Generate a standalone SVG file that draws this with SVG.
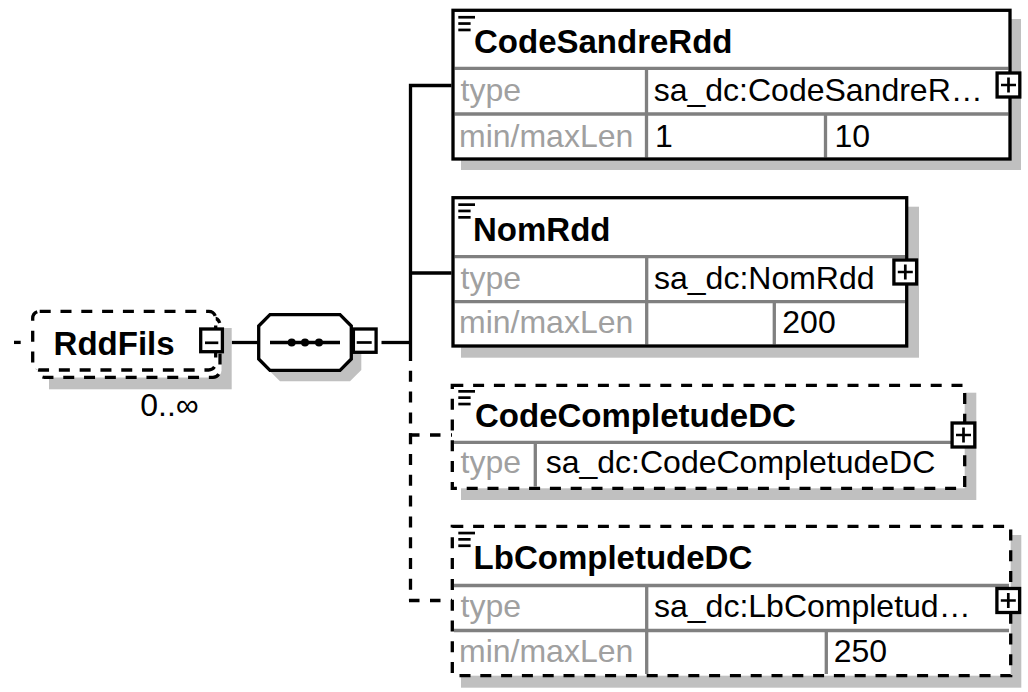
<svg xmlns="http://www.w3.org/2000/svg" width="1028" height="692" viewBox="0 0 1028 692">
<style>
text{font-family:"Liberation Sans",Arial,sans-serif;font-size:32px;fill:#000}
.t{font-weight:bold;font-size:33px}
.lbl{fill:#a0a0a0}
.bg{fill:#fff;stroke:none}
.bd{fill:none;stroke:#000;stroke-width:3.3}
.dash{stroke-dasharray:11 9.8}
.sh{fill:#c0c0c0}
.grid{stroke:#808080;stroke-width:3.3;fill:none}
.ln{stroke:#000;stroke-width:3.3;fill:none}
.btn{fill:#fff;stroke:#000;stroke-width:3.3}
.sign{stroke:#000;stroke-width:2.7;fill:none}
</style>
<defs>
<g id="plus"><rect class="btn" x="-11.4" y="-12" width="22.7" height="24"/><path class="sign" d="M-7.5 0H7.5M0 -7.5V7.5"/></g>
<g id="icon"><rect x="0" y="0" width="16.7" height="2.7"/><rect x="0" y="6.3" width="12.3" height="2.7"/><rect x="0" y="12.7" width="12.3" height="2.7"/></g>
</defs>

<g id="connectors">
<path class="ln" d="M14 342.4H20.7"/>
<path class="ln" d="M231.7 342.5H258.7"/>
<path class="ln" d="M381.5 342.5H410.5"/>
<path class="ln" d="M451.5 85.5H410.5V350"/>
<path class="ln" d="M410.5 273H451.5"/>
<path class="ln dash" d="M410.5 350V600.5"/>
<path class="ln" style="stroke-dasharray:10.5 10.5" d="M409 435H452"/>
<path class="ln" style="stroke-dasharray:10.5 10.5" d="M409 600.5H452"/>
</g>

<g id="RddFils">
<rect class="sh" x="49" y="328" width="182.7" height="61.3"/>
<rect class="bg" x="37.5" y="318" width="184" height="59.5" rx="7"/>
<rect class="bd dash" x="37.5" y="318" width="182.5" height="59.3" rx="7"/>
<rect class="bg" x="32.7" y="311.3" width="183" height="58.7" rx="7"/>
<rect class="bd dash" x="32.7" y="311.3" width="183" height="58.7" rx="7"/>
<text class="t" x="53.6" y="355">RddFils</text>
<rect class="btn" x="200.7" y="329" width="21.7" height="22.7"/>
<path class="sign" d="M205 342.8H218.3"/>
<text x="140.3" y="416">0..∞</text>
</g>

<g id="sequence">
<polygon class="sh" points="268.7,337 280,325.7 350,325.7 361.3,337 361.3,370 350,381.3 280,381.3 268.7,370"/>
<polygon class="btn" points="258.7,326 270,314.7 340,314.7 351.3,326 351.3,359 340,370.3 270,370.3 258.7,359"/>
<path class="ln" d="M270 342.5H340"/>
<circle cx="291.7" cy="342.5" r="4"/>
<circle cx="305" cy="342.5" r="4"/>
<circle cx="319" cy="342.5" r="4"/>
<rect class="btn" x="353.4" y="329" width="22.7" height="23.3"/>
<path class="sign" d="M356.7 342.5H371.7"/>
</g>

<g id="CodeSandreRdd">
<rect class="sh" x="461" y="19" width="560" height="151"/>
<rect class="bg" x="453" y="10.3" width="557" height="148.7"/>
<path class="grid" d="M454.6 68.3H1008.4M454.6 114H1008.4M646.5 68.3V157.4M825.5 114V157.4"/>
<rect class="bd" x="453" y="10.3" width="557" height="148.7"/>
<use href="#icon" x="458.3" y="15.9"/>
<text class="t" x="474" y="53.3">CodeSandreRdd</text>
<text class="lbl" x="460.5" y="100.5">type</text>
<text x="653.7" y="100.5">sa_dc:CodeSandreR…</text>
<text class="lbl" x="459" y="146.5">min/maxLen</text>
<text x="655" y="146.5">1</text>
<text x="834.5" y="146.5">10</text>
<use href="#plus" x="1008.5" y="85"/>
</g>

<g id="NomRdd">
<rect class="sh" x="461" y="206.7" width="458" height="151"/>
<rect class="bg" x="453" y="197.7" width="453.7" height="148.3"/>
<path class="grid" d="M454.6 256.7H905M454.6 301.7H905M646.7 256.7V344.4M774.3 301.7V344.4"/>
<rect class="bd" x="453" y="197.7" width="453.7" height="148.3"/>
<use href="#icon" x="458.3" y="203.3"/>
<text class="t" x="473" y="240.7">NomRdd</text>
<text class="lbl" x="460.5" y="288.8">type</text>
<text x="654" y="288.8">sa_dc:NomRdd</text>
<text class="lbl" x="459" y="333.3">min/maxLen</text>
<text x="782.3" y="333.3">200</text>
<use href="#plus" x="905.3" y="272"/>
</g>

<g id="CodeCompletudeDC">
<rect class="sh" x="461" y="392.7" width="515.3" height="107.3"/>
<rect class="bg" x="452.3" y="385.3" width="512.4" height="103"/>
<path class="grid" d="M454 442.3H963M535.3 442.3V486.6"/>
<rect class="bd dash" x="452.3" y="385.3" width="512.4" height="103"/>
<use href="#icon" x="458.3" y="390"/>
<text class="t" x="475" y="426.7">CodeCompletudeDC</text>
<text class="lbl" x="460.5" y="473.3">type</text>
<text x="545.7" y="473.3">sa_dc:CodeCompletudeDC</text>
<use href="#plus" x="963.5" y="435"/>
</g>

<g id="LbCompletudeDC">
<rect class="sh" x="461" y="535" width="560.3" height="152.7"/>
<rect class="bg" x="452.3" y="526.3" width="558.4" height="149.4"/>
<path class="grid" d="M454 585.5H1009M454 630.5H1009M646.7 585.5V674M826.3 630.5V674"/>
<rect class="bd dash" x="452.3" y="526.3" width="558.4" height="149.4"/>
<use href="#icon" x="458.3" y="531.7"/>
<text class="t" x="473.6" y="569">LbCompletudeDC</text>
<text class="lbl" x="460.5" y="616.7">type</text>
<text x="654" y="616.7">sa_dc:LbCompletud…</text>
<text class="lbl" x="459" y="661.7">min/maxLen</text>
<text x="833.7" y="661.7">250</text>
<use href="#plus" x="1008.3" y="600.5"/>
</g>
</svg>
